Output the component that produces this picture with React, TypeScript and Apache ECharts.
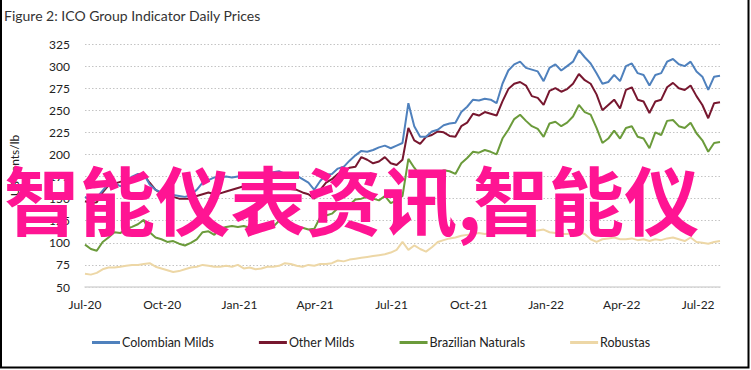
import { useEffect, useRef } from "react";
import * as echarts from "echarts";

// Weekly readings starting 1 Jul 2020 (US cents/lb)
const colombianMilds = [
  152, 148, 151, 159, 167, 168, 164, 168, 175, 178, 178, 166, 160, 157, 156, 154, 153, 152, 154, 160,
  168, 171, 174, 174, 175, 174, 175, 176, 175, 177, 179, 178, 180, 181, 178, 177, 176, 172, 168, 160,
  170, 177, 178, 184, 186, 193, 199, 204, 203, 205, 208, 210, 207, 210, 213, 258, 232, 220, 220, 226,
  228, 233, 235, 236, 248, 254, 262, 261, 263, 262, 258, 280, 295, 302, 305, 298, 296, 294, 283, 298,
  302, 295, 300, 305, 318, 310, 303, 292, 280, 282, 290, 283, 300, 303, 292, 290, 278, 290, 292, 305,
  308, 302, 300, 305, 294, 288, 273, 288, 289,
];
const otherMilds = [
  147, 145, 146, 157, 165, 167, 169, 171, 173, 175, 177, 168, 160, 156, 154, 152, 150, 150, 150, 153,
  155, 157, 155, 156, 158, 160, 162, 164, 165, 166, 165, 167, 164, 166, 163, 161, 160, 157, 155, 150,
  160, 168, 172, 178, 181, 185, 186, 197, 194, 190, 192, 197, 190, 188, 194, 230, 216, 212, 220, 222,
  226, 225, 221, 220, 232, 236, 246, 244, 248, 246, 244, 260, 274, 280, 282, 278, 266, 264, 256, 272,
  275, 271, 274, 280, 291, 284, 280, 268, 250, 256, 262, 252, 273, 276, 262, 260, 247, 260, 262, 276,
  281, 275, 273, 278, 266, 256, 241, 258, 259,
];
const brazilianNaturals = [
  98, 93, 91, 101, 106, 112, 111, 116, 118, 121, 126, 112, 106, 104, 101, 102, 99, 97, 100, 104,
  112, 113, 109, 116, 118, 119, 118, 119, 117, 119, 118, 116, 118, 125, 128, 119, 118, 117, 115, 116,
  129, 131, 133, 139, 141, 143, 149, 150, 152, 150, 148, 153, 145, 148, 153, 195, 185, 176, 174, 177,
  180, 182, 181, 178, 190, 196, 203, 202, 205, 203, 200, 218, 228, 240, 245, 238, 232, 229, 220, 235,
  237, 232, 236, 243, 256, 248, 245, 230, 213, 218, 227, 218, 230, 232, 220, 218, 207, 225, 222, 238,
  239, 232, 230, 236, 224, 216, 203, 213, 214,
];
const robustas = [
  65, 64, 66, 70, 72, 72, 73, 74, 75, 75, 76, 77, 73, 71, 69, 67, 68, 70, 72, 73,
  75, 74, 73, 73, 74, 73, 75, 71, 72, 70, 71, 73, 73, 74, 77, 76, 74, 73, 75, 74,
  76, 76, 77, 80, 79, 81, 82, 83, 84, 85, 86, 87, 89, 92, 101, 92, 97, 93, 90, 95,
  101, 103, 105, 106, 108, 109, 110, 111, 110, 111, 112, 111, 112, 112, 113, 113, 114, 114, 115, 112,
  111, 110, 110, 111, 112, 110, 104, 101, 104, 105, 106, 104, 104, 105, 103, 104, 102, 104, 103, 105,
  106, 104, 102, 106, 101, 100, 99, 101, 102,
];

const seriesNames = ["Colombian Milds", "Other Milds", "Brazilian Naturals", "Robustas"];
const seriesColors = ["#4f81bd", "#77172f", "#6b9b3b", "#edd7a6"];
const tickLabels = ["Jul-20", "Oct-20", "Jan-21", "Apr-21", "Jul-21", "Oct-21", "Jan-22", "Apr-22", "Jul-22"];
const tickMonths: [number, number][] = [
  [2020, 6], [2020, 9], [2021, 0], [2021, 3], [2021, 6], [2021, 9], [2022, 0], [2022, 3], [2022, 6],
];
const yTicks = [50, 75, 100, 125, 150, 175, 200, 225, 250, 275, 300, 325];
const titleText = "Figure 2: ICO Group Indicator Daily Prices";
const yAxisTitle = "US cents/lb";
const watermarkParts = ["智能仪表资讯,", "智能仪"];

const DAY = 86400000;

export default function App() {
  const ref = useRef<HTMLDivElement>(null);
  useEffect(() => {
    if (!ref.current) return;
    const chart = echarts.init(ref.current, undefined, { renderer: "svg" });
    const t0 = Date.UTC(2020, 6, 1);
    // x measured in days since 1 Jul 2020
    const weekDays = colombianMilds.map((_, i) => 7 * i);
    const tickDays = tickMonths.map(([y, m]) => Math.round((Date.UTC(y, m, 1) - t0) / DAY));
    const maxDay = Math.round((Date.UTC(2022, 6, 27) - t0) / DAY);
    const allSeries = [colombianMilds, otherMilds, brazilianNaturals, robustas];
    const font = "Lato";
    const wmStyle = {
      fill: "#ff1493",
      fontSize: 75.5,
      fontWeight: "bold",
      fontFamily: "Noto Sans CJK SC",
      verticalAlign: "middle",
      align: "left",
    };
    chart.setOption({
      animation: false,
      title: {
        text: titleText,
        left: -1,
        top: 3,
        textStyle: { fontSize: 14, fontWeight: "normal", color: "#333", fontFamily: font },
      },
      legend: {
        data: seriesNames,
        left: 87,
        top: 331,
        icon: "rect",
        itemWidth: 28,
        itemHeight: 3,
        itemGap: 45,
        textStyle: { fontSize: 12.5, color: "#222", fontFamily: font, padding: [0, 0, 0, -3] },
      },
      grid: { left: 83, right: 31, top: 44, bottom: 83, containLabel: false },
      xAxis: {
        type: "value",
        min: 0,
        max: maxDay,
        axisLine: { show: true, onZero: false, lineStyle: { color: "#d6d6d6", width: 1.5 } },
        axisTick: { show: false },
        splitLine: { show: false },
        axisLabel: {
          customValues: tickDays,
          margin: 11,
          color: "#222",
          fontSize: 12,
          fontFamily: font,
          showMinLabel: true,
          showMaxLabel: true,
          formatter: (v: number) => {
            const idx = tickDays.indexOf(Math.round(v));
            return idx >= 0 ? tickLabels[idx] : "";
          },
        },
      },
      yAxis: {
        type: "value",
        min: yTicks[0],
        max: yTicks[yTicks.length - 1],
        interval: 25,
        name: yAxisTitle,
        nameLocation: "middle",
        nameRotate: 90,
        nameGap: 65,
        nameTextStyle: { fontSize: 12, color: "#222", fontFamily: font },
        axisLine: { show: false },
        axisTick: { show: false },
        axisLabel: { margin: 15, color: "#222", fontSize: 12, fontFamily: font },
        splitLine: { show: true, lineStyle: { color: "#c4c4c4", width: 1, type: [1.5, 2] } },
      },
      series: allSeries.map((arr, k) => ({
        name: seriesNames[k],
        type: "line",
        showSymbol: false,
        symbol: "none",
        color: seriesColors[k],
        lineStyle: { width: 2, color: seriesColors[k] },
        data: arr.map((v, i) => [weekDays[i], v]),
        z: 2 + (3 - k),
      })),
      graphic: [
        { type: "text", z: 100, style: { ...wmStyle, text: watermarkParts[0], x: 4, y: 197 } },
        { type: "text", z: 100, style: { ...wmStyle, text: watermarkParts[1], x: 473, y: 197 } },
        {
          type: "rect",
          z: 100,
          shape: { x: 1, y: -3, width: 747.5, height: 370.5 },
          style: { fill: "none", stroke: "#000", lineWidth: 2 },
        },
      ],
    });
    return () => chart.dispose();
  }, []);
  return (
    <div
      ref={ref}
      style={{ position: "fixed", left: 0, top: 0, width: 751, height: 370, background: "#fff" }}
    />
  );
}
